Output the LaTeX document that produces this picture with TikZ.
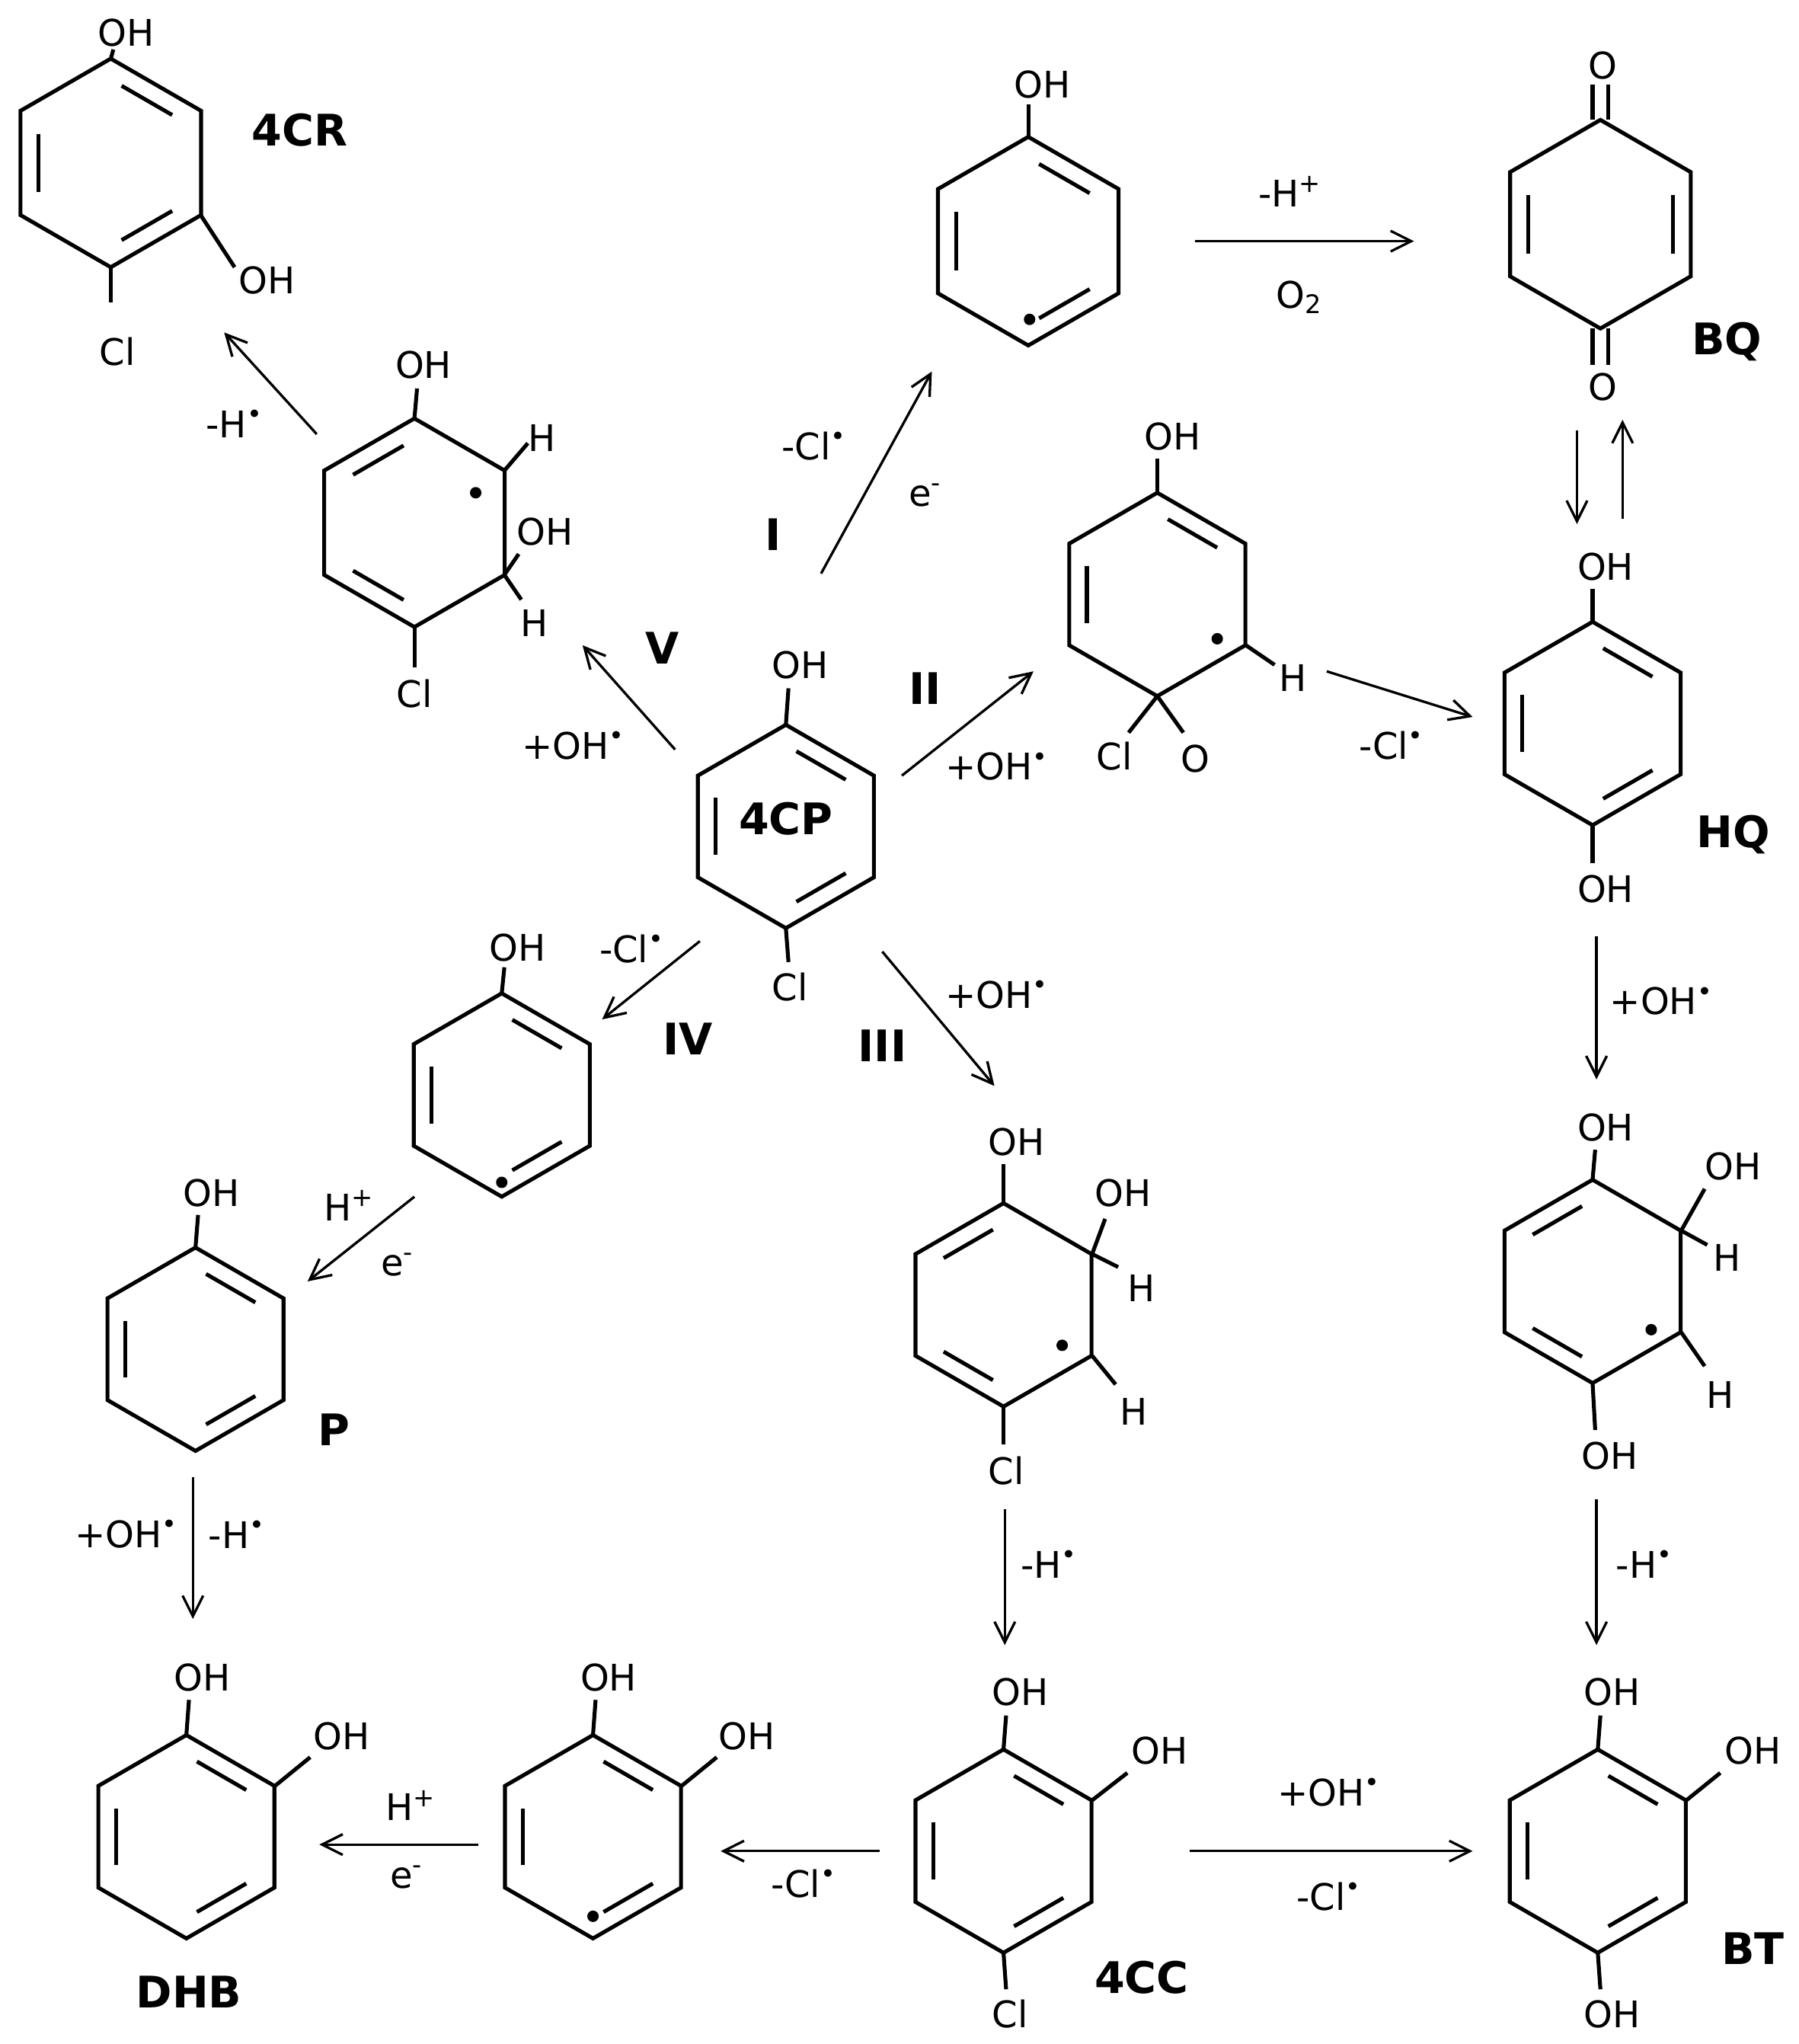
\documentclass[tikz,border=0pt]{standalone}
\usepackage{fontspec}
\setmainfont{DejaVu Sans}
\usetikzlibrary{calc,arrows.meta}
\tikzset{
 bondl/.style={line width=1.7pt,line join=miter},
 rxn/.style={line width=1.1pt,-{Straight Barb[length=9pt,width=9pt]}},
 lbl/.style={inner sep=0pt,font=\fontsize{16}{18}\selectfont},
 blbl/.style={inner sep=0pt,font=\fontsize{19}{22}\selectfont\bfseries},
 dotr/.style={fill=black,circle,inner sep=0pt,minimum size=5pt}
}
\newcommand\ringdraw[4]{%
\begin{scope}[shift={(#1,-#2)}]
\draw[bondl] (90:#3)--(30:#3)--(-30:#3)--(-90:#3)--(-150:#3)--(150:#3)--cycle;
\foreach \e in {#4} {\pgfmathsetmacro\aa{90-60*\e}
 \draw[bondl] ($(\aa:0.8*#3)!0.15!(\aa-60:0.8*#3)$) -- ($(\aa-60:0.8*#3)!0.15!(\aa:0.8*#3)$);}
\end{scope}}
\newcommand\rad{\textsuperscript{•}}
\newcommand\T[3]{\node[lbl] at (#1,-#2) {#3};}
\newcommand\B[3]{\node[blbl] at (#1,-#2) {#3};}
\newcommand\bd[4]{\draw[bondl] (#1,-#2)--(#3,-#4);}
\newcommand\ar[4]{\draw[rxn] (#1,-#2)--(#3,-#4);}
\begin{document}
\begin{tikzpicture}[x=0.02cm,y=0.02cm]
\fill[white] (0,0) rectangle (1380,-1568);
% 4CR
\ringdraw{85}{125}{80}{0,4,2}
\bd{85}{45}{87}{38}\T{97}{25}{OH}
\bd{154}{165}{180}{205}\T{205}{215}{OH}
\bd{85}{205}{85}{232}\T{90}{270}{Cl}
\B{230}{100}{4CR}
% phenyl radical top
\ringdraw{789}{185}{80}{0,4,2}
\bd{789}{105}{789}{80}\T{800}{65}{OH}
\node[dotr] at (790,-245) {};
% BQ
\ringdraw{1228}{172}{80}{4,1}
\bd{1222}{92}{1222}{65}\bd{1234}{92}{1234}{65}\T{1230}{50}{O}
\bd{1222}{252}{1222}{280}\bd{1234}{252}{1234}{280}\T{1230}{297}{O}
\B{1325}{262}{BQ}
% V intermediate
\ringdraw{318}{401}{80}{5,3}
\bd{318}{321}{320}{298}\T{325}{280}{OH}
\bd{387}{361}{405}{340}\T{416}{336}{H}
\bd{387}{441}{398}{425}\T{418}{408}{OH}
\bd{387}{441}{400}{460}\T{410}{478}{H}
\bd{318}{481}{318}{512}\T{318}{532}{Cl}
\node[dotr] at (365,-378) {};
% 4CP
\ringdraw{603}{634}{78}{0,4,2}
\bd{603}{556}{605}{528}\T{614}{510}{OH}
\bd{603}{712}{605}{738}\T{606}{757}{Cl}
\B{603}{628}{4CP}
% II intermediate
\ringdraw{888}{456}{78}{0,4}
\bd{888}{378}{888}{352}\T{900}{335}{OH}
\bd{956}{495}{978}{510}\T{992}{520}{H}
\bd{888}{534}{866}{562}\bd{888}{534}{908}{562}
\T{855}{580}{Cl}\T{917}{582}{O}
\node[dotr] at (934,-490) {};
% HQ
\ringdraw{1222}{555}{78}{0,4,2}
\bd{1222}{477}{1222}{452}\T{1232}{435}{OH}
\bd{1222}{633}{1222}{662}\T{1232}{682}{OH}
\B{1330}{640}{HQ}
% IV radical
\ringdraw{385}{840}{78}{0,4,2}
\bd{385}{762}{387}{742}\T{397}{727}{OH}
\node[dotr] at (385,-907) {};
% P
\ringdraw{150}{1035}{78}{0,4,2}
\bd{150}{957}{152}{932}\T{162}{915}{OH}
\B{256}{1097}{P}
% III intermediate
\ringdraw{770}{1001}{78}{5,3}
\bd{770}{923}{770}{893}\T{780}{876}{OH}
\bd{838}{962}{848}{935}\T{862}{915}{OH}
\bd{838}{962}{858}{972}\T{876}{988}{H}
\bd{838}{1040}{856}{1062}\T{870}{1083}{H}
\bd{770}{1079}{770}{1108}\T{772}{1128}{Cl}
\node[dotr] at (815,-1032) {};
% right intermediate
\ringdraw{1222}{983}{78}{5,3}
\bd{1222}{905}{1224}{882}\T{1232}{865}{OH}
\bd{1290}{944}{1308}{912}\T{1330}{895}{OH}
\bd{1290}{944}{1310}{955}\T{1325}{965}{H}
\bd{1290}{1022}{1308}{1048}\T{1320}{1070}{H}
\bd{1222}{1061}{1224}{1097}\T{1235}{1117}{OH}
\node[dotr] at (1267,-1020) {};
% DHB
\ringdraw{143}{1409}{78}{0,4,2}
\bd{143}{1331}{145}{1304}\T{155}{1287}{OH}
\bd{211}{1370}{238}{1348}\T{262}{1332}{OH}
\B{145}{1528}{DHB}
% radical bottom
\ringdraw{455}{1409}{78}{0,4,2}
\bd{455}{1331}{457}{1304}\T{467}{1287}{OH}
\bd{523}{1370}{550}{1348}\T{573}{1332}{OH}
\node[dotr] at (455,-1470) {};
% 4CC
\ringdraw{770}{1420}{78}{0,4,2}
\bd{770}{1342}{772}{1316}\T{783}{1298}{OH}
\bd{838}{1381}{865}{1360}\T{890}{1343}{OH}
\bd{770}{1498}{772}{1526}\T{775}{1545}{Cl}
\B{876}{1517}{4CC}
% BT
\ringdraw{1226}{1420}{78}{0,4,2}
\bd{1226}{1342}{1228}{1316}\T{1237}{1298}{OH}
\bd{1294}{1381}{1320}{1360}\T{1345}{1343}{OH}
\bd{1226}{1498}{1228}{1526}\T{1237}{1545}{OH}
\B{1345}{1495}{BT}
% arrows and labels
\ar{630}{440}{715}{285}\T{625}{342}{-Cl\rad}\T{710}{380}{e\textsuperscript{-}}\B{593}{410}{I}
\ar{917}{185}{1085}{185}\T{990}{147}{-H\textsuperscript{+}}\T{997}{228}{O\textsubscript{2}}
\ar{518}{575}{447}{495}\T{440}{572}{+OH\rad}\B{508}{497}{V}
\ar{243}{333}{172}{255}\T{180}{325}{-H\rad}
\ar{692}{595}{793}{515}\B{710}{528}{II}\T{765}{588}{+OH\rad}
\ar{1018}{515}{1130}{550}\T{1068}{572}{-Cl\rad}
\ar{1210}{330}{1210}{402}\ar{1245}{398}{1245}{322}
\ar{537}{722}{462}{782}\T{485}{728}{-Cl\rad}\B{528}{797}{IV}
\ar{677}{730}{763}{833}\T{765}{763}{+OH\rad}\B{677}{802}{III}
\ar{318}{918}{236}{983}\T{268}{925}{H\textsuperscript{+}}\T{305}{970}{e\textsuperscript{-}}
\ar{148}{1133}{148}{1242}\T{97}{1177}{+OH\rad}\T{182}{1177}{-H\rad}
\ar{1225}{718}{1225}{828}\T{1275}{768}{+OH\rad}
\ar{771}{1158}{771}{1262}\T{805}{1200}{-H\rad}
\ar{1225}{1150}{1225}{1262}\T{1262}{1200}{-H\rad}
\ar{913}{1420}{1130}{1420}\T{1020}{1375}{+OH\rad}\T{1020}{1455}{-Cl\rad}
\ar{675}{1420}{553}{1420}\T{617}{1445}{-Cl\rad}
\ar{367}{1415}{245}{1415}\T{315}{1385}{H\textsuperscript{+}}\T{312}{1440}{e\textsuperscript{-}}
\end{tikzpicture}
\end{document}
